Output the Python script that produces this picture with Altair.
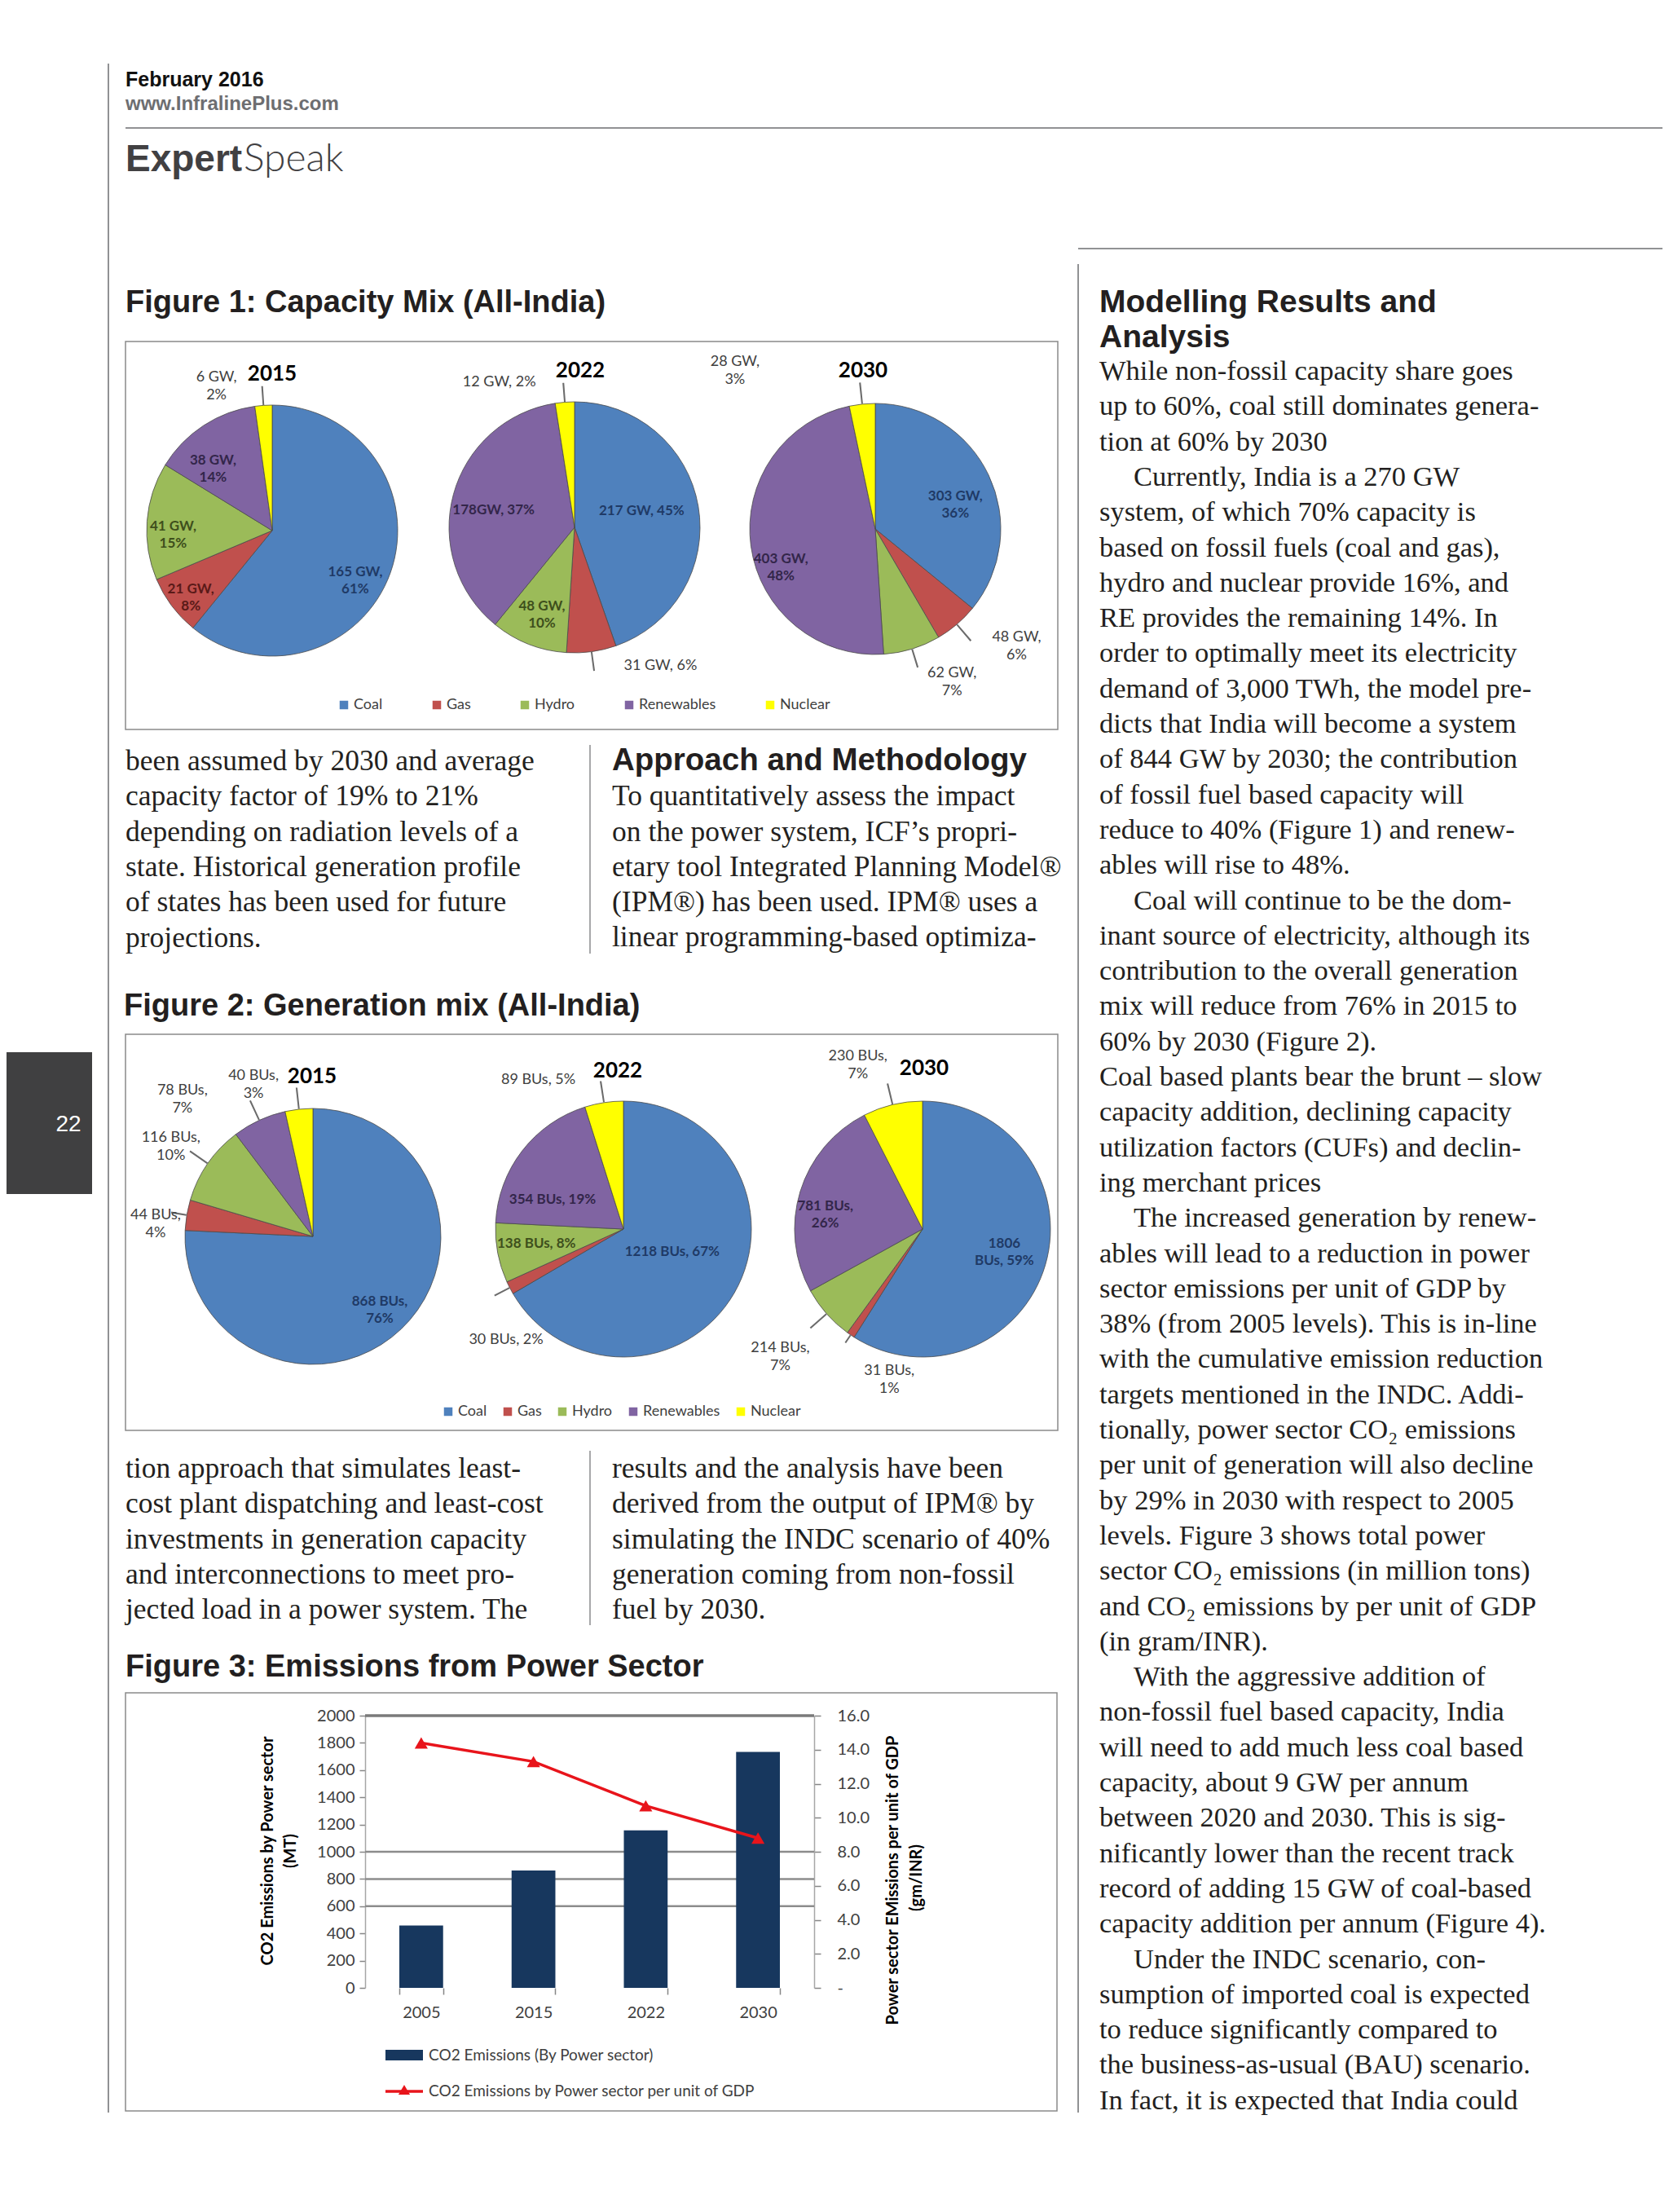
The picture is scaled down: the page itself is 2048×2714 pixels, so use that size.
import altair as alt
import pandas as pd

# ------------------------------------------------------------------ data
sources = ["Coal", "Gas", "Hydro", "Renewables", "Nuclear"]

cap_2015_gw = [165, 21, 41, 38, 6]
cap_2015_pct = [61, 8, 15, 14, 2]
cap_2022_gw = [217, 31, 48, 178, 12]
cap_2022_pct = [45, 6, 10, 37, 2]
cap_2030_gw = [303, 48, 62, 403, 28]
cap_2030_pct = [36, 6, 7, 48, 3]

gen_2015_bus = [868, 44, 116, 78, 40]
gen_2015_pct = [76, 4, 10, 7, 3]
gen_2022_bus = [1218, 30, 138, 354, 89]
gen_2022_pct = [67, 2, 8, 19, 5]
gen_2030_bus = [1806, 31, 214, 781, 230]
gen_2030_pct = [59, 1, 7, 26, 7]

em_years = ["2005", "2015", "2022", "2030"]
co2_mt = [458, 862, 1157, 1734]
co2_gm_per_inr = [14.4, 13.3, 10.7, 8.8]
left_ticks = [0, 200, 400, 600, 800, 1000, 1200, 1400, 1600, 1800, 2000]
right_ticks = [0, 2, 4, 6, 8, 10, 12, 14, 16]
grid_values = [600, 800, 1000]
grid_top = [2000]

header_date = "February 2016"
header_site = "www.InfralinePlus.com"
page_number = "22"
fig1_title = "Figure 1: Capacity Mix (All-India)"
fig2_title = "Figure 2: Generation mix (All-India)"
fig3_title = "Figure 3: Emissions from Power Sector"
left_axis_title = ["CO2 Emissions by Power sector", "(MT)"]
right_axis_title = ["Power sector EMissions per unit of GDP", "(gm/INR)"]
legend3_labels = ["CO2 Emissions (By Power sector)", "CO2 Emissions by Power sector per unit of GDP"]

colA1_lines = [
    "been assumed by 2030 and average",
    "capacity factor of 19% to 21%",
    "depending on radiation levels of a",
    "state. Historical generation profile",
    "of states has been used for future",
    "projections.",
]
colA2_heading = "Approach and Methodology"
colA2_lines = [
    "To quantitatively assess the impact",
    "on the power system, ICF\u2019s propri-",
    "etary tool Integrated Planning Model\u00ae",
    "(IPM\u00ae) has been used. IPM\u00ae uses a",
    "linear programming-based optimiza-",
]
colB1_lines = [
    "tion approach that simulates least-",
    "cost plant dispatching and least-cost",
    "investments in generation capacity",
    "and interconnections to meet pro-",
    "jected load in a power system. The",
]
colB2_lines = [
    "results and the analysis have been",
    "derived from the output of IPM\u00ae by",
    "simulating the INDC scenario of 40%",
    "generation coming from non-fossil",
    "fuel by 2030.",
]
right_heading = ["Modelling Results and", "Analysis"]
# lines starting with ">" open an indented paragraph
right_lines = [
    "While non-fossil capacity share goes",
    "up to 60%, coal still dominates genera-",
    "tion at 60% by 2030",
    ">Currently, India is a 270 GW",
    "system, of which 70% capacity is",
    "based on fossil fuels (coal and gas),",
    "hydro and nuclear provide 16%, and",
    "RE provides the remaining 14%. In",
    "order to optimally meet its electricity",
    "demand of 3,000 TWh, the model pre-",
    "dicts that India will become a system",
    "of 844 GW by 2030; the contribution",
    "of fossil fuel based capacity will",
    "reduce to 40% (Figure 1) and renew-",
    "ables will rise to 48%.",
    ">Coal will continue to be the dom-",
    "inant source of electricity, although its",
    "contribution to the overall generation",
    "mix will reduce from 76% in 2015 to",
    "60% by 2030 (Figure 2).",
    "Coal based plants bear the brunt \u2013 slow",
    "capacity addition, declining capacity",
    "utilization factors (CUFs) and declin-",
    "ing merchant prices",
    ">The increased generation by renew-",
    "ables will lead to a reduction in power",
    "sector emissions per unit of GDP by",
    "38% (from 2005 levels). This is in-line",
    "with the cumulative emission reduction",
    "targets mentioned in the INDC. Addi-",
    "tionally, power sector CO\u2082 emissions",
    "per unit of generation will also decline",
    "by 29% in 2030 with respect to 2005",
    "levels. Figure 3 shows total power",
    "sector CO\u2082 emissions (in million tons)",
    "and CO\u2082 emissions by per unit of GDP",
    "(in gram/INR).",
    ">With the aggressive addition of",
    "non-fossil fuel based capacity, India",
    "will need to add much less coal based",
    "capacity, about 9 GW per annum",
    "between 2020 and 2030. This is sig-",
    "nificantly lower than the recent track",
    "record of adding 15 GW of coal-based",
    "capacity addition per annum (Figure 4).",
    ">Under the INDC scenario, con-",
    "sumption of imported coal is expected",
    "to reduce significantly compared to",
    "the business-as-usual (BAU) scenario.",
    "In fact, it is expected that India could",
]

# ------------------------------------------------------------------ style / layout
W, H = 2032, 2698
MARGIN = 8
source_colors = ["#4F81BD", "#C0504D", "#9BBB59", "#8064A2", "#FFFF00"]
inside_text_colors = ["#1F3A66", "#5A1A18", "#3E4F1C", "#33264A", "#333333"]
SANS = "Liberation Sans"
SERIF = "Liberation Serif"
CHART_FONT = "Lato"
INK = "#231f20"
LH = 43.3


def P(v):
    return v - MARGIN


one = pd.DataFrame({"t": [""]})


def text(txt, x, y, size, font=SERIF, weight="normal", color=INK, align="left",
         baseline="alphabetic", line_height=LH, angle=0):
    kw = dict(font=font, fontSize=size, fontWeight=weight, color=color, align=align,
              baseline=baseline, lineBreak="\n", lineHeight=line_height)
    if angle:
        kw["angle"] = angle
    return alt.Chart(pd.DataFrame({"t": [txt]})).mark_text(**kw).encode(
        x=alt.value(P(x)), y=alt.value(P(y)), text="t:N")


def hrule(x1, x2, y, color, w):
    return alt.Chart(one).mark_rule(color=color, strokeWidth=w).encode(
        x=alt.value(P(x1)), x2=alt.value(P(x2)), y=alt.value(P(y)))


def vrule(x, y1, y2, color, w):
    return alt.Chart(one).mark_rule(color=color, strokeWidth=w).encode(
        x=alt.value(P(x)), y=alt.value(P(y1)), y2=alt.value(P(y2)))


def frame(x1, y1, x2, y2, stroke="#8a8a8a", w=1.5):
    return alt.Chart(one).mark_rect(fillOpacity=0, stroke=stroke, strokeWidth=w).encode(
        x=alt.value(P(x1)), x2=alt.value(P(x2)), y=alt.value(P(y1)), y2=alt.value(P(y2)))


def solid_rect(x1, y1, x2, y2, color):
    return alt.Chart(one).mark_rect(color=color).encode(
        x=alt.value(P(x1)), x2=alt.value(P(x2)), y=alt.value(P(y1)), y2=alt.value(P(y2)))


layers = []

# ---------------- header
layers.append(vrule(133, 78, 2592, "#6d6e71", 1.5))
layers.append(text(header_date, 154, 106, 25, font=SANS, weight="bold", color="#111111"))
layers.append(text(header_site, 154, 135, 24, font=SANS, weight="bold", color="#6d6e71"))
layers.append(hrule(154, 2048, 157, "#6d6e71", 1.5))
layers.append(text("Expert", 154, 210, 46, font=SANS, weight="bold", color="#414042"))
layers.append(text("Speak", 299, 210, 48, font="Lato", weight=300, color="#414042"))
layers.append(hrule(1323, 2048, 305, "#6d6e71", 1.5))
layers.append(vrule(1323, 324, 2592, "#6d6e71", 1.5))
layers.append(solid_rect(0, 1291, 113, 1465, "#404041"))
layers.append(text(page_number, 84, 1380, 28, font=SANS, color="white", align="center", baseline="middle"))

# ---------------- titles
layers.append(text(fig1_title, 154, 383, 38, font=SANS, weight="bold"))
layers.append(text(fig2_title, 152, 1246, 38, font=SANS, weight="bold"))
layers.append(text(fig3_title, 154, 2057, 38, font=SANS, weight="bold"))

# ---------------- body text
layers.append(text("\n".join(colA1_lines), 154, 945, 35.5))
layers.append(text(colA2_heading, 751, 945, 38.5, font=SANS, weight="bold"))
layers.append(text("\n".join(colA2_lines), 751, 945 + LH, 35.5))
layers.append(vrule(724, 914, 1170, "#6d6e71", 1.2))
layers.append(text("\n".join(colB1_lines), 154, 1813, 35.5))
layers.append(text("\n".join(colB2_lines), 751, 1813, 35.5))
layers.append(vrule(724, 1780, 1994, "#6d6e71", 1.2))
layers.append(text("\n".join(right_heading), 1349, 383, 39, font=SANS, weight="bold"))
for i, ln in enumerate(right_lines):
    indent = ln.startswith(">")
    layers.append(text(ln.lstrip(">"), 1349 + (42 if indent else 0), 466 + i * LH, 34.5))

# ---------------- figure frames
layers.append(frame(154, 419, 1298, 895))
layers.append(frame(154, 1269, 1298, 1755))
layers.append(frame(154, 2077, 1297, 2590))

# ---------------- pies
legend_common = dict(orient="none", direction="horizontal", title=None, symbolType="square",
                     symbolSize=110, symbolStrokeWidth=0, labelFont=CHART_FONT, labelFontSize=18,
                     labelColor="#404040", labelOffset=3, padding=0, columns=5)
legend1 = alt.Legend(legendX=P(413), legendY=P(856), columnPadding=57, **legend_common)
legend2 = alt.Legend(legendX=P(541), legendY=P(1723), columnPadding=16, **legend_common)
tscale = alt.Scale(domain=[0, 1])


def pie(vals, pcts, unit, cx, cy, r, templates, rfac, dang, fig):
    """rfac: label distance (x radius, >1 = outside label); dang: label angle shift in degrees."""
    rows = []
    for i, s in enumerate(sources):
        out = rfac[i] > 1
        lr = rfac[i] * r
        rows.append(dict(src=s, idx=i, val=vals[i],
                         lab=templates[i].format(v=vals[i], u=unit, p=pcts[i]),
                         out=out, lr=lr, lo=r + min(0.5 * (lr - r), 26), li=r + 1,
                         da=dang[i] / 360.0, tc=inside_text_colors[i]))
    df = pd.DataFrame(rows)
    X, Y = alt.value(P(cx)), alt.value(P(cy))
    if fig == 1:
        col = alt.Color("src:N", scale=alt.Scale(domain=sources, range=source_colors), legend=legend1)
    else:
        col = alt.Fill("src:N", sort=sources, scale=alt.Scale(range=source_colors), legend=legend2)
    arc = alt.Chart(df).mark_arc(outerRadius=r, stroke="#4a4a4a", strokeWidth=0.8).encode(
        theta=alt.Theta("val:Q", stack="normalize"), order=alt.Order("idx:Q"), x=X, y=Y).encode(col)
    base = (alt.Chart(df)
            .transform_window(cum="sum(val)", sort=[alt.SortField("idx", order="ascending")], frame=[None, 0])
            .transform_joinaggregate(total="sum(val)")
            .transform_calculate(mid="(datum.cum - datum.val / 2) / datum.total")
            .transform_calculate(ml="datum.mid + datum.da"))
    lab_theta = alt.Theta("ml:Q", scale=tscale, stack=None)
    inner = base.transform_filter("!datum.out").mark_text(
        font=CHART_FONT, fontSize=17, fontWeight="bold", lineBreak="\n", lineHeight=21,
        baseline="middle").encode(
        theta=lab_theta, x=X, y=Y, radius=alt.Radius("lr:Q", scale=None),
        text="lab:N", color=alt.Color("tc:N", scale=None))
    outer = base.transform_filter("datum.out").mark_text(
        font=CHART_FONT, fontSize=18, lineBreak="\n", lineHeight=22, baseline="middle",
        color="#404040").encode(
        theta=lab_theta, x=X, y=Y, radius=alt.Radius("lr:Q", scale=None), text="lab:N")
    leader = (base.transform_filter("datum.out")
              .transform_calculate(t1="datum.mid - 0.0004", t2="datum.mid + 0.0004")
              .mark_arc(stroke="#6b6b6b", strokeWidth=1.2, fillOpacity=0)
              .encode(theta=alt.Theta("t1:Q", scale=tscale, stack=None), theta2="t2:Q",
                      radius=alt.Radius("lo:Q", scale=None), radius2="li:Q", x=X, y=Y))
    return [arc, leader, inner, outer]


two = ["{v} {u},\n{p}%"] * 5
single = ["{v} {u}, {p}%"] * 5
layers += pie(cap_2015_gw, cap_2015_pct, "GW", 334, 651, 154, two,
              [0.74, 0.80, 0.79, 0.73, 1.30], [7, 1, -2, -7, -16], 1)
layers += pie(cap_2022_gw, cap_2022_pct, "GW", 705, 647, 154,
              ["{v} {u}, {p}%", "{v} {u}, {p}%", "{v} {u},\n{p}%", "{v}{u}, {p}%", "{v} {u}, {p}%"],
              [0.55, 1.30, 0.68, 0.66, 1.30], [-4, -24, 1, -3, -23], 1)
layers += pie(cap_2030_gw, cap_2030_pct, "GW", 1074, 649, 154, two,
              [0.69, 1.42, 1.30, 0.79, 1.74], [3, -12, -11, -10, -34], 1)
layers += pie(gen_2015_bus, gen_2015_pct, "BUs", 384, 1517, 157, two,
              [0.73, 1.24, 1.35, 1.53, 1.34], [-2, -2, 0, -17, -14], 2)
layers += pie(gen_2022_bus, gen_2022_pct, "BUs", 765, 1508, 157, single,
              [0.42, 1.26, 0.69, 0.60, 1.34], [-5, -16, 1, -15, -21], 2)
layers += pie(gen_2030_bus, gen_2030_pct, "BUs", 1132, 1508, 157,
              ["{v}\n{u}, {p}%", "{v} {u},\n{p}%", "{v} {u},\n{p}%", "{v} {u},\n{p}%", "{v} {u},\n{p}%"],
              [0.65, 1.14, 1.45, 0.78, 1.44], [-6, -21, 1.5, -4, -7], 2)

for yr, x, y in [("2015", 334, 459), ("2022", 712, 455), ("2030", 1059, 455),
                 ("2015", 383, 1321), ("2022", 758, 1314), ("2030", 1134, 1311)]:
    layers.append(text(yr, x, y, 26, font=CHART_FONT, weight="bold", color="black",
                       align="center", baseline="middle"))

# ---------------- figure 3
em_df = pd.DataFrame({"year": em_years, "co2": co2_mt, "gdp": co2_gm_per_inr})
X0, X1, YB, YT = P(448), P(999), P(2439), P(2105)
x_axis = alt.Axis(orient="bottom", offset=-(H - YB), title=None, domain=False, tickBand="extent",
                  tickSize=8, tickColor="#868686", tickWidth=1.5, labelAngle=0, labelFont=CHART_FONT,
                  labelFontSize=20, labelColor="#404040", labelPadding=12, grid=False)
xenc = alt.X("year:N", sort=em_years,
             scale=alt.Scale(domain=em_years, range=[X0, X1], paddingInner=0.61, paddingOuter=0.305),
             axis=x_axis)
grid_scale = alt.Scale(domain=[0, 2000], range=[YB, YT], nice=False)

grid = alt.Chart(pd.DataFrame({"g": grid_values})).mark_rule(color="#8c8c8c", strokeWidth=2.5).encode(
    y=alt.Y("g:Q", scale=grid_scale, axis=None), x=alt.value(X0), x2=alt.value(X1))
grid2 = alt.Chart(pd.DataFrame({"g": grid_top})).mark_rule(color="#7a7a7a", strokeWidth=3.5).encode(
    y=alt.Y("g:Q", scale=grid_scale, axis=None), x=alt.value(X0), x2=alt.value(X1))

bars = alt.Chart(em_df).mark_bar(color="#17375E").encode(
    x=xenc,
    y=alt.Y("co2:Q", scale=alt.Scale(domain=[0, 2000], range=[YB, YT], nice=False),
            axis=alt.Axis(orient="left", offset=-X0, values=left_ticks, format="d", grid=False, title=None,
                          domainColor="#a6a6a6", domainWidth=1.5, tickColor="#868686", tickSize=7,
                          tickWidth=1.5, labelFont=CHART_FONT, labelFontSize=20, labelColor="#404040",
                          labelPadding=6)))

line = alt.Chart(em_df).mark_line(
    color="#E8141B", strokeWidth=3.5,
    point=alt.OverlayMarkDef(shape="triangle-up", size=260, filled=True, color="#E8141B")).encode(
    x=xenc,
    y=alt.Y("gdp:Q", scale=alt.Scale(domain=[0, 16], range=[YB, YT], nice=False),
            axis=alt.Axis(orient="right", offset=-(W - X1), values=right_ticks, grid=False, title=None,
                          labelExpr="datum.value == 0 ? '-' : format(datum.value, '.1f')",
                          domainColor="#a6a6a6", domainWidth=1.5, tickColor="#868686", tickSize=8,
                          tickWidth=1.5, labelFont=CHART_FONT, labelFontSize=20, labelColor="#404040",
                          labelPadding=20)))

layers += [grid, grid2, bars, line]

layers.append(text(left_axis_title[0], 329, 2271, 20, font=CHART_FONT, weight="bold", color="black",
                   align="center", baseline="middle", angle=270))
layers.append(text(left_axis_title[1], 357, 2271, 20, font=CHART_FONT, weight="bold", color="black",
                   align="center", baseline="middle", angle=270))
layers.append(text(right_axis_title[0], 1096, 2307, 20, font=CHART_FONT, weight="bold", color="black",
                   align="center", baseline="middle", angle=270))
layers.append(text(right_axis_title[1], 1125, 2304, 20, font=CHART_FONT, weight="bold", color="black",
                   align="center", baseline="middle", angle=270))

# legend of figure 3
layers.append(solid_rect(473, 2515, 519, 2528, "#17375E"))
layers.append(text(legend3_labels[0], 526, 2522, 19, font=CHART_FONT, color="#404040", baseline="middle"))
layers.append(hrule(473, 519, 2566, "#E8141B", 3.5))
layers.append(alt.Chart(one).mark_point(shape="triangle-up", size=200, filled=True, color="#E8141B",
                                        opacity=1).encode(x=alt.value(P(496)), y=alt.value(P(2564))))
layers.append(text(legend3_labels[1], 526, 2566, 19, font=CHART_FONT, color="#404040", baseline="middle"))

chart = alt.layer(*layers).properties(
    width=W, height=H, autosize=alt.AutoSizeParams(type="none"), padding=0, background="white"
).resolve_scale(y="independent").configure_view(strokeWidth=0)

chart.save("out.html", embed_options={"renderer": "svg", "actions": False})
